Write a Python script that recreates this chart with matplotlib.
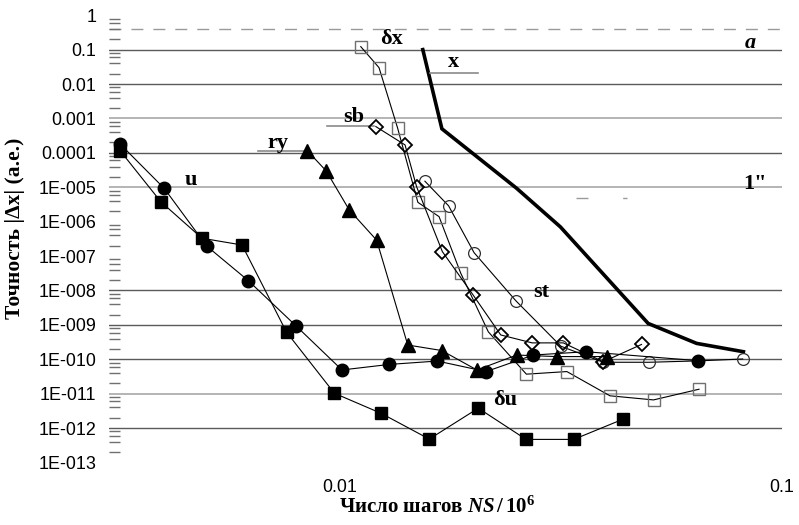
import matplotlib
matplotlib.use("Agg")
import matplotlib.pyplot as plt
from matplotlib.ticker import FixedLocator, LogLocator, NullFormatter

plt.rcParams["font.family"] = ["Liberation Sans", "DejaVu Sans"]
plt.rcParams["mathtext.fontset"] = "custom"
plt.rcParams["mathtext.rm"] = "Liberation Serif:bold"
plt.rcParams["mathtext.it"] = "Liberation Serif:italic:bold"
plt.rcParams["mathtext.bf"] = "Liberation Serif:bold"

# u (filled circles)
u_x = [0.00318, 0.00400, 0.00499, 0.0062, 0.00794, 0.0101, 0.01293, 0.0166,
       0.0214, 0.02737, 0.0360, 0.0647]
u_y = [1.8e-4, 9.3e-6, 1.96e-7, 1.93e-8, 9.5e-10, 4.9e-11, 7.1e-11, 8.9e-11,
       4.4e-11, 1.33e-10, 1.66e-10, 9.1e-11]

# du (filled squares)
du_x = [0.00318, 0.00393, 0.00487, 0.0060, 0.00757, 0.00971, 0.01238, 0.01592,
        0.02055, 0.02636, 0.0338, 0.0436]
du_y = [1.15e-4, 3.8e-6, 3.3e-7, 2.1e-7, 6.1e-10, 1.03e-11, 2.7e-12, 4.8e-13,
        3.8e-12, 4.7e-13, 4.7e-13, 1.8e-12]

# ry (filled triangles)
ry_x = [0.00843, 0.0093, 0.01049, 0.0121, 0.01423, 0.01698, 0.0204, 0.0251,
        0.0309, 0.0401]
ry_y = [1.16e-4, 3.0e-5, 2.2e-6, 2.9e-7, 2.6e-10, 1.8e-10, 4.9e-11, 1.33e-10,
        1.2e-10, 1.2e-10]

# dx (open squares)
dx_x = [0.01114, 0.01225, 0.0135, 0.0150, 0.01675, 0.01875, 0.02165, 0.0264,
        0.0326, 0.0408, 0.0512, 0.0649]
dx_y = [0.122, 0.030, 5.2e-4, 3.65e-6, 1.4e-6, 3.2e-8, 6.3e-10, 3.7e-11,
        4.4e-11, 8.7e-12, 6.6e-12, 1.35e-11]

# sb (open diamonds)
sb_x = [0.01205, 0.01403, 0.0149, 0.01704, 0.0200, 0.0231, 0.0272, 0.0320,
        0.0394, 0.0481]
sb_y = [5.8e-4, 1.7e-4, 1.04e-5, 1.35e-7, 7.4e-9, 5.1e-10, 3.0e-10, 3.0e-10,
        8.5e-11, 2.7e-10]

# st (open circles)
st_x = [0.01556, 0.0176, 0.0201, 0.0250, 0.0316, 0.0394, 0.0501, 0.0647, 0.0815]
st_y = [1.5e-5, 2.9e-6, 1.26e-7, 5.0e-9, 2.4e-10, 8.2e-11, 8.2e-11, 9.0e-11,
        1.02e-10]

# x (thick line, no markers)
xx_x = [0.01539, 0.0170, 0.0251, 0.0315, 0.0498, 0.0641, 0.0818]
xx_y = [0.1, 5.0e-4, 9.3e-6, 7.1e-7, 1.1e-9, 2.9e-10, 1.66e-10]

# reference levels
level_a = 0.4
level_sec = 4.85e-6

grid_dark = [1e-1, 1e-2, 1e-4, 1e-8, 1e-9, 1e-10, 1e-12]
grid_light = [1e-3, 1e-5, 1e-11]

ytick_vals = [10.0 ** -k for k in range(0, 14)]
ytick_labels = ["1", "0.1", "0.01", "0.001", "0.0001"] + \
    ["1E-%03d" % k for k in range(5, 14)]

fig = plt.figure(figsize=(7.99, 5.25), dpi=100)
ax = fig.add_axes([0.1364, 0.119, 0.8423, 0.852])
ax.set_xscale("log")
ax.set_yscale("log")
ax.set_xlim(0.003, 0.1)
ax.set_ylim(1e-13, 1)

for s in ax.spines.values():
    s.set_visible(False)

for g in grid_dark:
    ax.axhline(g, color="#5a5a5a", lw=1.0, zorder=1)
for g in grid_light:
    ax.axhline(g, color="#a8a8a8", lw=1.2, zorder=1)

ax.axhline(level_a, color="#9a9a9a", lw=1.0, dashes=(8.6, 7.2), zorder=1)
ax.plot([0.0342, 0.0445], [level_sec, level_sec], color="#9a9a9a", lw=1.0,
        dashes=(8.6, 25), zorder=1)

thin = dict(color="black", lw=0.8)
ax.plot(xx_x, xx_y, color="black", lw=2.6, solid_joinstyle="miter", zorder=2)
ax.plot(dx_x, dx_y, marker="s", ms=8, mfc="none", mec="#707070", mew=1.0,
        zorder=3, **thin)
ax.plot(st_x, st_y, marker="o", ms=8.5, mfc="none", mec="#303030", mew=0.9,
        zorder=3, **thin)
ax.plot(sb_x, sb_y, marker="D", ms=7.5, mfc="none", mec="black", mew=1.3,
        zorder=4, **thin)
ax.plot(ry_x, ry_y, marker="^", ms=10, mfc="black", mec="black", zorder=5,
        **thin)
ax.plot(du_x, du_y, marker="s", ms=8.5, mfc="black", mec="black", zorder=5,
        **thin)
ax.plot(u_x, u_y, marker="o", ms=9, mfc="black", mec="black", zorder=6,
        **thin)

# short leader lines next to the series names
lead = dict(color="#8a8a8a", lw=1.2, zorder=2)
ax.plot([0.01598, 0.02052], [0.0206, 0.0206], **lead)
ax.plot([0.00933, 0.01194], [6.05e-4, 6.05e-4], **lead)
ax.plot([0.00653, 0.00842], [1.16e-4, 1.16e-4], **lead)

lbl = dict(family="Liberation Serif", weight="bold", fontsize=16,
           ha="center", va="center", zorder=7)
ax.text(0.01309, 0.2, "δx", **lbl)
ax.text(0.01804, 0.044, "x", **lbl)
ax.text(0.01072, 1.13e-3, "sb", **lbl)
ax.text(0.00725, 1.9e-4, "ry", **lbl)
ax.text(0.0046, 1.63e-5, "u", **lbl)
ax.text(0.0286, 9.2e-9, "st", **lbl)
ax.text(0.0236, 6.6e-12, "δu", **lbl)
ax.text(0.0847, 0.153, "a", style="italic", **lbl)
ax.text(0.0870, 1.22e-5, '1"', **lbl)

ax.yaxis.set_major_locator(FixedLocator(ytick_vals))
ax.set_yticklabels(ytick_labels)
ax.yaxis.set_minor_locator(LogLocator(base=10, subs=(2, 4, 6, 8),
                                      numticks=20))
ax.yaxis.set_minor_formatter(NullFormatter())
ax.tick_params(axis="y", which="major", direction="in", length=0, pad=9,
               labelsize=12.9)
ax.tick_params(axis="y", which="minor", direction="in", length=8, width=1.0,
               color="#707070")

ax.xaxis.set_major_locator(FixedLocator([0.01, 0.1]))
ax.set_xticklabels(["0.01", "0.1"])
ax.xaxis.set_minor_locator(FixedLocator([]))
ax.tick_params(axis="x", which="major", length=0, pad=12, labelsize=12.9)

fig.text(437 / 799, 1 - 507 / 525, r"Число шагов $\mathit{NS}\,/\,10^{6}$",
         family="Liberation Serif", weight="bold", fontsize=15,
         ha="center", va="center")
fig.text(15 / 799, 1 - 228 / 525, "Точность |Δx| (а.е.)",
         family="Liberation Serif", weight="bold", fontsize=15.5,
         rotation=90, ha="center", va="center")

fig.savefig("out.png", dpi=100)
